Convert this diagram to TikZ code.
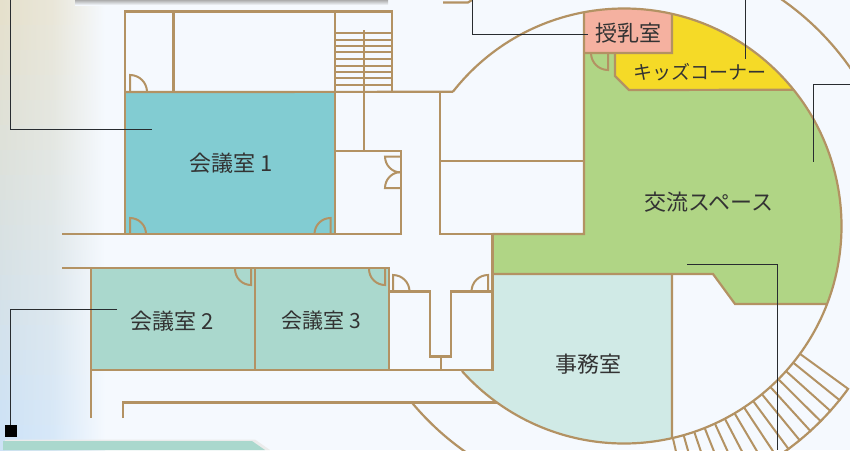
\documentclass[tikz,border=0pt]{standalone}
\usepackage{fontspec}
\setmainfont{Noto Sans CJK JP}
\definecolor{wallbrown}{RGB}{179, 146, 99}
\definecolor{planback}{RGB}{245, 249, 254}
\definecolor{roomteal}{RGB}{130, 204, 210}
\definecolor{roommint}{RGB}{170, 216, 205}
\definecolor{roompale}{RGB}{208, 234, 230}
\definecolor{roomgreen}{RGB}{176, 213, 133}
\definecolor{roomyellow}{RGB}{245, 218, 39}
\definecolor{roompink}{RGB}{245, 177, 160}
\definecolor{leadgray}{RGB}{40, 44, 48}
\definecolor{washtan}{RGB}{229, 224, 204}
\definecolor{washblue}{RGB}{205, 226, 246}
\tikzset{
    wall/.style={draw=wallbrown, line width=2.2pt},
    thinwall/.style={draw=wallbrown, line width=2pt},
    leader/.style={draw=leadgray, line width=1pt},
    roomlabel/.style={text=black!80, font=\fontsize{22}{22}\selectfont, inner sep=0pt}
}
\begin{document}
\begin{tikzpicture}[x=1pt, y=1pt]
    \useasboundingbox (0,-450) rectangle (850,0);
    \clip (0,-450) rectangle (850,0);
    \coordinate (hub) at (624,-226);
    % Background
    \fill[planback] (0,-450) rectangle (850,0);
    \foreach \band in {0,1,...,17} {
        \pgfmathtruncatemacro{\mixval}{100-\band*100/17}
        \colorlet{washnow}{washtan!\mixval!washblue}
        \fill[left color=washnow, right color=planback, shading angle=90, middle color=washnow!75!planback]
             (0,-\band*25) rectangle (105,-\band*25-25.5);
    }
    % Bars at the page edges
    \fill[top color=black!32, bottom color=planback] (75,0) rectangle (388,-5);
    \fill[black!8] (5,-450) -- (5,-439.5) -- (255,-439.5) -- (270,-450) -- cycle;
    \fill[roommint] (3,-450) -- (3,-441) -- (252,-441) -- (265,-450) -- cycle;
    % Room fills
    \fill[roomteal] (125,-92) rectangle (335,-234);
    \fill[roommint] (91,-268) rectangle (389,-370);
    \fill[roomgreen] (584,-53) -- (584,-234) -- (492.5,-234) -- (492.5,-274) -- (713,-274) -- (735,-304)
         -- ([shift={(hub)}]-21:217.5) arc[start angle=-21, end angle=38.8, radius=217.5]
         -- (629,-90) -- (615,-76) -- (615,-53) -- cycle;
    \fill[roomyellow] (615,-53) -- (672,-53) -- ([shift={(hub)}]77.25:217.5)
         arc[start angle=77.25, end angle=38.8, radius=217.5] -- (629,-90) -- (615,-76) -- cycle;
    \fill[roompink] (584,-53) -- ([shift={(hub)}]100.6:217.5)
         arc[start angle=100.6, end angle=77.25, radius=217.5] -- (672,-53) -- cycle;
    \fill[roompale] (492.5,-274) -- (672,-274) -- ([shift={(hub)}]-77.25:217.5)
         arc[start angle=-77.25, end angle=-138.2, radius=217.5] -- (492.5,-370) -- cycle;
    % Upper wing
    \draw[wall] (125,-234) -- (125,-11.5) -- (392,-11.5) -- (392,-92);
    \draw[wall] (173.5,-11.5) -- (173.5,-92);
    \draw[wall] (335,-11.5) -- (335,-234);
    \draw[wall] (125,-92) -- ([shift={(hub)}]141.9:217.5);
    \draw[wall] (62,-234) -- (401,-234) -- (401,-151) -- (335,-151);
    % Stairs
    \foreach \ystep in {33,39.5,46,52,59,65.5,72,78,84.5} {
        \draw[thinwall] (335,-\ystep) -- (392,-\ystep);
    }
    \draw[thinwall] (364,-30) -- (364,-151);
    % Lower wing
    \draw[wall] (62,-268) -- (389,-268) -- (389,-370);
    \draw[wall] (91,-268) -- (91,-418);
    \draw[wall] (255,-268) -- (255,-370);
    \draw[wall] (91,-370) -- (492.5,-370) -- (492.5,-234) -- (440,-234) -- (440,-92);
    \draw[wall] (123,-418) -- (123,-402.5) -- (497,-402.5);
    \draw[wall] (389,-291.5) -- (430,-291.5) -- (430,-356.5) -- (451,-356.5) -- (451,-291.5) -- (492.5,-291.5);
    \draw[wall] (441,-356.5) -- (441,-370);
    % Centre and hall
    \draw[wall] (440,-161) -- (584,-161);
    \draw[wall] ([shift={(hub)}]100.6:217.5) -- (584,-234) -- (492.5,-234);
    \draw[wall] (492.5,-274) -- (713,-274) -- (735,-304) -- ([shift={(hub)}]-21:217.5);
    \draw[wall] (672,-274) -- ([shift={(hub)}]-77.25:217.5);
    \draw[wall] (584,-53) -- (672,-53) -- ([shift={(hub)}]77.25:217.5);
    \draw[wall] (615,-53) -- (615,-76) -- (629,-90) -- ([shift={(hub)}]38.8:217.5);
    \draw[wall] (443,-2.5) -- (468,-2.5) -- (472,0);
    % Main circle
    \draw[wall] ([shift={(hub)}]141.9:217.5) arc[start angle=141.9, end angle=-138.2, radius=217.5];
    % Outer ring
    \draw[wall] ([shift={(hub)}]56:276) arc[start angle=56, end angle=30, radius=276];
    \draw[wall] ([shift={(hub)}]219.7:276) arc[start angle=219.7, end angle=240, radius=276];
    \draw[wall] ([shift={(hub)}]-36:277) arc[start angle=-36, end angle=-78, radius=277];
    \foreach \a in {-36,-38.93,...,-78} {
        \draw[thinwall] ([shift={(hub)}]\a:217.5) -- ([shift={(hub)}]\a:278);
    }
    % Doors
    \draw[thinwall] (130,-92) -- (130,-75) arc[start angle=90, end angle=0, radius=17];
    \draw[thinwall] (130,-234) -- (130,-218) arc[start angle=90, end angle=0, radius=16];
    \draw[thinwall] (330.5,-234) -- (330.5,-218) arc[start angle=90, end angle=180, radius=16];
    \draw[thinwall] (251,-268) -- (251,-285) arc[start angle=-90, end angle=-180, radius=16];
    \draw[thinwall] (385,-268) -- (385,-285) arc[start angle=-90, end angle=-180, radius=16];
    \draw[thinwall] (393,-291.5) -- (393,-275) arc[start angle=90, end angle=0, radius=16.5];
    \draw[thinwall] (488,-291.5) -- (488,-275) arc[start angle=90, end angle=180, radius=16.5];
    \draw[thinwall] (401,-156.5) -- (385,-156.5) arc[start angle=180, end angle=270, radius=16];
    \draw[thinwall] (401,-188) -- (385,-188) arc[start angle=180, end angle=90, radius=16];
    \draw[thinwall] (608,-53) -- (608,-70) arc[start angle=-90, end angle=-180, radius=17];
    % Leader lines
    \draw[leader] (10.5,0) -- (10.5,-129.5) -- (152,-129.5);
    \draw[leader] (472,0) -- (472,-34) -- (588,-34);
    \draw[leader] (745,0) -- (745,-59);
    \draw[leader] (850,-84) -- (813.5,-84) -- (813.5,-162);
    \draw[leader] (687,-264.5) -- (777.5,-264.5) -- (777.5,-450);
    \draw[leader] (117,-309) -- (10.5,-309) -- (10.5,-430);
    \fill[black] (5,-425) rectangle (17,-437);
    % Room names
    \node[roomlabel] (kaigi1) at (231,-163) {会議室 1};
    \node[roomlabel] (kaigi2) at (172.5,-321) {会議室 2};
    \node[roomlabel, font=\fontsize{21}{21}\selectfont] (kaigi3) at (321.5,-321) {会議室 3};
    \node[roomlabel] (junyu) at (628,-33) {授乳室};
    \node[roomlabel, font=\fontsize{19}{19}\selectfont] (kids) at (700,-72) {キッズコーナー};
    \node[roomlabel, font=\fontsize{22}{22}\selectfont] (koryu) at (709,-202) {交流スペース};
    \node[roomlabel] (jimu) at (588,-364) {事務室};
\end{tikzpicture}
\end{document}
